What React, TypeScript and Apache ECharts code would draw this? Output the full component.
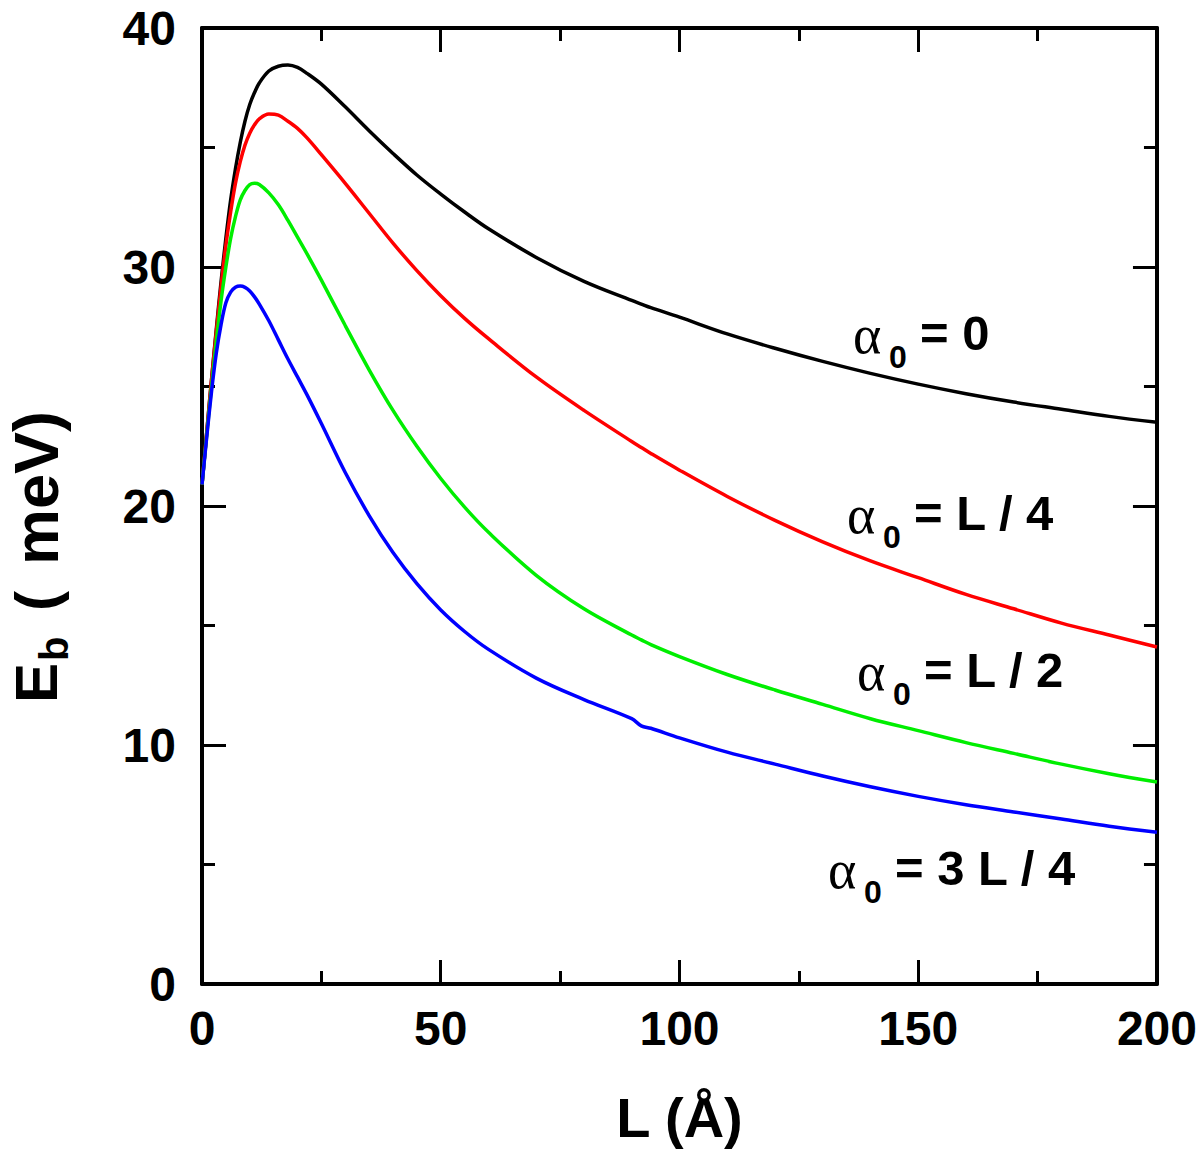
import React, { useEffect, useRef } from "react";
import * as echarts from "echarts";

// ---------- data ----------
const L_VALUES = [0, 1, 2, 3, 4, 5, 6, 7, 8, 9, 10, 11, 12, 14, 16, 18, 20, 22, 25, 30, 35, 40, 45, 50, 55, 60, 70, 80, 90, 92, 94, 100, 110, 120, 130, 140, 150, 160, 170, 180, 190, 200];

const E_ALPHA_0 = [20.9, 23.1, 25.3, 27.4, 29.4, 31.2, 32.8, 34.1, 35.2, 36.1, 36.8, 37.3, 37.7, 38.2, 38.4, 38.45, 38.35, 38.1, 37.65, 36.7, 35.7, 34.75, 33.85, 33.05, 32.3, 31.6, 30.4, 29.4, 28.6, 28.45, 28.3, 27.9, 27.2, 26.6, 26.05, 25.55, 25.1, 24.7, 24.35, 24.05, 23.75, 23.5];

const E_ALPHA_L4 = [20.9, 23.1, 25.3, 27.3, 29.2, 30.9, 32.3, 33.5, 34.4, 35.1, 35.6, 35.95, 36.2, 36.4, 36.35, 36.1, 35.8, 35.4, 34.7, 33.5, 32.25, 31.0, 29.85, 28.8, 27.85, 27.0, 25.4, 24.0, 22.7, 22.45, 22.2, 21.5, 20.4, 19.4, 18.5, 17.7, 17.0, 16.3, 15.7, 15.1, 14.6, 14.1];

const E_ALPHA_L2 = [20.9, 23.0, 25.0, 26.9, 28.6, 30.0, 31.2, 32.1, 32.8, 33.2, 33.45, 33.5, 33.45, 33.1, 32.6, 31.95, 31.25, 30.55, 29.45, 27.55, 25.7, 24.0, 22.5, 21.15, 19.95, 18.9, 17.1, 15.7, 14.6, 14.4, 14.2, 13.7, 12.95, 12.3, 11.7, 11.1, 10.6, 10.1, 9.65, 9.2, 8.8, 8.45];

const E_ALPHA_3L4 = [20.9, 22.9, 24.8, 26.4, 27.6, 28.5, 28.95, 29.15, 29.2, 29.15, 29.0, 28.75, 28.45, 27.75, 26.95, 26.15, 25.4, 24.65, 23.45, 21.4, 19.6, 18.05, 16.75, 15.65, 14.75, 14.0, 12.8, 11.9, 11.1, 10.8, 10.7, 10.3, 9.7, 9.2, 8.7, 8.25, 7.85, 7.5, 7.2, 6.9, 6.6, 6.35];

const SERIES_NAMES = ["α0 = 0", "α0 = L / 4", "α0 = L / 2", "α0 = 3 L / 4"];
const LABEL_RHS = ["= 0", "= L / 4", "= L / 2", "= 3 L / 4"];
const SERIES_COLORS = ["#000000", "#ff0000", "#00ee00", "#0000ff"];
const X_TICK_INTERVAL = 50;
const Y_TICK_INTERVAL = 10;
const X_NAME = "L (Å)";

// ---------- layout ----------
const W = 1200;
const H = 1158;
const FONT = '"Liberation Sans", Arial, Helvetica, sans-serif';
const LABEL_POS: [number, number][] = [
  [853, 335],
  [847, 515],
  [857, 672],
  [828, 870],
];

function makePairs(ys: number[]) {
  return L_VALUES.map((x, i) => [x, ys[i]]);
}

function axisCommon(show: boolean) {
  return {
    axisLine: { show: true, onZero: false, lineStyle: { color: "#000", width: 4 } },
    axisTick: { show: true, inside: true, length: 24, lineStyle: { color: "#000", width: 3 } },
    minorTick: { show: true, splitNumber: 2, length: 13, lineStyle: { color: "#000", width: 3 } },
    splitLine: { show: false },
    minorSplitLine: { show: false },
    axisLabel: {
      show,
      color: "#000",
      fontFamily: FONT,
      fontWeight: "bold" as const,
      fontSize: 48,
    },
  };
}

export default function App() {
  const ref = useRef<HTMLDivElement>(null);

  useEffect(() => {
    if (!ref.current) return;
    const chart = echarts.init(ref.current, undefined, { renderer: "svg" });

    const ys = [E_ALPHA_0, E_ALPHA_L4, E_ALPHA_L2, E_ALPHA_3L4];

    const labelGraphics: any[] = [];
    LABEL_POS.forEach(([x, y], i) => {
      labelGraphics.push({
        type: "text",
        x,
        y,
        style: {
          text: "α",
          fontFamily: '"Liberation Serif", "DejaVu Serif", serif',
          fontSize: 54,
          fill: "#000",
          align: "left",
          verticalAlign: "middle",
        },
      });
      labelGraphics.push({
        type: "text",
        x: x + 36,
        y: y + 22,
        style: {
          text: "0",
          fontFamily: FONT,
          fontWeight: "bold",
          fontSize: 32,
          fill: "#000",
          align: "left",
          verticalAlign: "middle",
        },
      });
      labelGraphics.push({
        type: "text",
        x: x + 67,
        y: y - 2,
        style: {
          text: LABEL_RHS[i],
          fontFamily: FONT,
          fontWeight: "bold",
          fontSize: 49,
          fill: "#000",
          align: "left",
          verticalAlign: "middle",
        },
      });
    });

    // Y axis title: E_b ( meV), rotated to read bottom-to-top
    const TF = 60;
    const yTitle = {
      type: "group",
      x: 36,
      y: 703,
      rotation: Math.PI / 2,
      children: [
        {
          type: "text",
          x: 0,
          y: 0,
          style: { text: "E", fontFamily: FONT, fontWeight: "bold", fontSize: TF, fill: "#000", align: "left", verticalAlign: "middle" },
        },
        {
          type: "text",
          x: 42,
          y: 18,
          style: { text: "b", fontFamily: FONT, fontWeight: "bold", fontSize: 40, fill: "#000", align: "left", verticalAlign: "middle" },
        },
        {
          type: "text",
          x: 92,
          y: 0,
          style: { text: "(", fontFamily: FONT, fontWeight: "bold", fontSize: TF, fill: "#000", align: "left", verticalAlign: "middle" },
        },
        {
          type: "text",
          x: 138,
          y: 0,
          style: { text: "meV)", fontFamily: FONT, fontWeight: "bold", fontSize: 63, fill: "#000", align: "left", verticalAlign: "middle" },
        },
      ],
    };

    const option: any = {
      animation: false,
      backgroundColor: "#ffffff",
      grid: { left: 202, right: 42, top: 28, bottom: 174, containLabel: false },
      xAxis: [
        {
          type: "value",
          position: "bottom",
          min: 0,
          max: 200,
          interval: X_TICK_INTERVAL,
          ...axisCommon(true),
          axisLabel: { ...axisCommon(true).axisLabel, margin: 20 },
          name: X_NAME,
          nameLocation: "middle",
          nameGap: 105,
          nameTextStyle: { color: "#000", fontFamily: FONT, fontWeight: "bold", fontSize: 56 },
        },
        {
          type: "value",
          position: "top",
          min: 0,
          max: 200,
          interval: X_TICK_INTERVAL,
          ...axisCommon(false),
        },
      ],
      yAxis: [
        {
          type: "value",
          position: "left",
          min: 0,
          max: 40,
          interval: Y_TICK_INTERVAL,
          ...axisCommon(true),
          axisLabel: { ...axisCommon(true).axisLabel, margin: 26 },
        },
        {
          type: "value",
          position: "right",
          min: 0,
          max: 40,
          interval: Y_TICK_INTERVAL,
          ...axisCommon(false),
        },
      ],
      series: ys.map((arr, i) => ({
        name: SERIES_NAMES[i],
        type: "line",
        xAxisIndex: 0,
        yAxisIndex: 0,
        data: makePairs(arr),
        smooth: 0.35,
        showSymbol: false,
        symbol: "none",
        lineStyle: { color: SERIES_COLORS[i], width: 3.5 },
        itemStyle: { color: SERIES_COLORS[i] },
        z: 3,
      })),
      graphic: [...labelGraphics, yTitle],
    };

    chart.setOption(option);
    return () => {
      chart.dispose();
    };
  }, []);

  return (
    <div
      ref={ref}
      style={{ position: "fixed", left: 0, top: 0, width: W, height: H, background: "#fff" }}
    />
  );
}
